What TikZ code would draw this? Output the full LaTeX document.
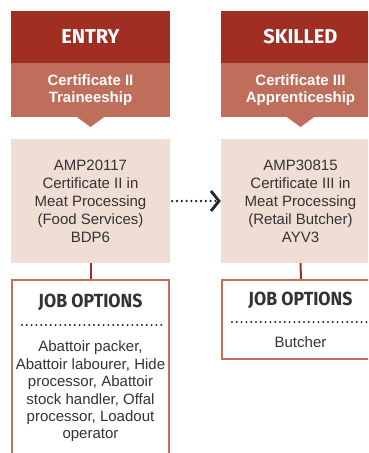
\documentclass[tikz,border=0pt]{standalone}
\usepackage{fontspec}
\setmainfont{Liberation Sans}
\newfontfamily\headfont{Fira Sans}
\newfontfamily\jobfont{Fira Sans}[FakeStretch=0.93]
\usetikzlibrary{arrows.meta}
\definecolor{darkred}{HTML}{A02E23}
\definecolor{midred}{HTML}{BE6E5A}
\definecolor{lightbox}{HTML}{F0DED4}
\definecolor{jobborder}{HTML}{C2705A}
\definecolor{txt}{HTML}{333333}
\tikzset{
  headbox/.style={fill=darkred, minimum width=159pt, minimum height=52pt, inner sep=0pt, text=white,
    font=\headfont\bfseries\fontsize{20}{22}\selectfont},
  subbox/.style={fill=midred, minimum width=159pt, minimum height=54pt, inner sep=0pt, text=white, align=center,
    font=\bfseries\fontsize{15}{17}\selectfont},
  qualbox/.style={fill=lightbox, minimum width=159pt, minimum height=124pt, inner sep=0pt, text=txt, align=center,
    font=\fontsize{15}{18}\selectfont},
  jobbox/.style={draw=jobborder, line width=2pt, fill=white, inner sep=0pt},
  jobtitle/.style={text=txt, inner sep=0pt, font=\jobfont\bfseries\fontsize{19}{22}\selectfont},
  jobtext/.style={text=txt, align=center, inner sep=0pt, font=\fontsize{15}{17.4}\selectfont},
  dotline/.style={line width=2.2pt, line cap=round, dash pattern=on 0pt off 4.8pt, black!85},
  link/.style={draw=darkred, line width=2pt},
}
\begin{document}
\begin{tikzpicture}[x=1pt,y=-1pt]
\useasboundingbox (0,0) rectangle (368,453);
\clip (0,0) rectangle (368,453);
\fill[white] (0,0) rectangle (368,453);
% left column
\node[headbox] (h2) at (90.5,37) {ENTRY};
\node[subbox] (s2) at (90.5,90) {Certificate II\\Traineeship};
\fill[midred] (75.5,116) -- (105.5,116) -- (90.5,127) -- cycle;
\node[qualbox] (l2) at (90.5,201) {AMP20117\\Certificate II in\\Meat Processing\\(Food Services)\\BDP6};
\node[jobbox, minimum width=156.5pt, minimum height=190pt] (j2) at (90.5,375) {};
\draw[link] (l2.south) -- (j2.north);
\node[jobtitle] (t2) at (90.5,302) {JOB OPTIONS};
\draw[dotline] (22,325) -- (162,325);
\node[jobtext] (b2) at (90.5,391.5) {Abattoir packer,\\Abattoir labourer, Hide\\processor, Abattoir\\stock handler, Offal\\processor, Loadout\\operator};
% right column
\node[headbox] (h3) at (300.5,37) {SKILLED};
\node[subbox] (s3) at (300.5,90) {Certificate III\\Apprenticeship};
\fill[midred] (285.5,116) -- (315.5,116) -- (300.5,127) -- cycle;
\node[qualbox] (l3) at (300.5,201) {AMP30815\\Certificate III in\\Meat Processing\\(Retail Butcher)\\AYV3};
\node[jobbox, minimum width=158pt, minimum height=79pt] (j3) at (301,319.5) {};
\draw[link] (l3.south) -- (j3.north);
\node[jobtitle] (t3) at (300.5,300) {JOB OPTIONS};
\draw[dotline] (232,322) -- (372,322);
\node[jobtext] (b3) at (300.5,342) {Butcher};
% arrow
\draw[dotline, line width=2.6pt, -{Straight Barb[length=8pt,width=20pt,line width=2.8pt]}] (l2.east) ++(2,0) -- (l3.west);
\end{tikzpicture}
\end{document}
